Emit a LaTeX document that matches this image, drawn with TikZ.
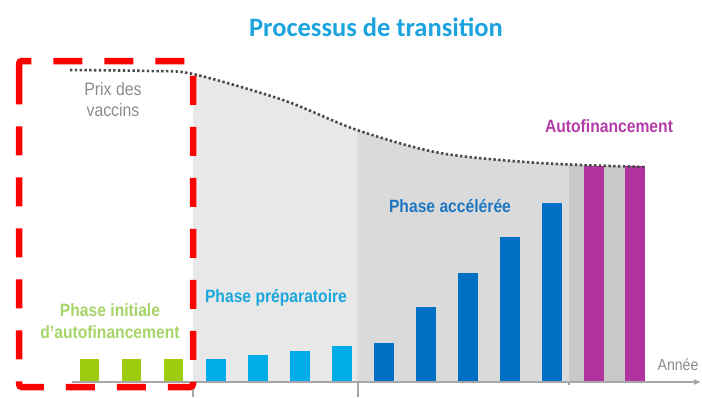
\documentclass[tikz,border=0pt]{standalone}
\usepackage{fontspec}
\setsansfont{Liberation Sans}[FakeStretch=0.88]
\newfontfamily\titrefont{Carlito}
\usepackage{tikz}
\usetikzlibrary{arrows}
\definecolor{titrebleu}{HTML}{1BA3E0}
\definecolor{grisnote}{HTML}{8C8C8C}
\definecolor{grisaxe}{HTML}{A6A6A6}
\definecolor{grisprix}{HTML}{4A4A4A}
\definecolor{zoneA}{HTML}{E8E8E8}
\definecolor{zoneB}{HTML}{DADADA}
\definecolor{zoneC}{HTML}{C8C8C8}
\definecolor{barvert}{HTML}{9ECD10}
\definecolor{barcyan}{HTML}{00ADE8}
\definecolor{barbleu}{HTML}{0070C4}
\definecolor{barmagenta}{HTML}{B2329E}
\definecolor{txtvert}{HTML}{A5D468}
\definecolor{txtcyan}{HTML}{1AA7DD}
\definecolor{txtbleu}{HTML}{1E76C2}
\definecolor{txtmagenta}{HTML}{B43CA8}
\newcommand\courbeprix{plot[smooth] coordinates {(70,70) (150,71) (193,74) (283,100) (357,130) (440,153) (540,163) (645,167)}}

\begin{document}
\begin{tikzpicture}[x=1pt,y=-1pt,font=\sffamily,
  every node/.style={inner sep=0pt,anchor=base,align=center},
  phase/.style={font=\sffamily\bfseries\fontsize{17.8}{22}\selectfont},
  note/.style={font=\sffamily\fontsize{18}{21}\selectfont,text=grisnote},
  axe/.style={draw=grisaxe,line width=1.2pt},
  prix/.style={draw=grisprix,line width=2.6pt,dash pattern=on 2.4pt off 2.4pt},
  cadre/.style={draw=red,line width=6.5pt,dash pattern=on 29pt off 22pt,rounded corners=3pt}]

    \useasboundingbox (0,0) rectangle (702,397);

    % zones grises sous la courbe
    \begin{scope}
        \clip \courbeprix -- (645,382) -- (70,382) -- cycle;
        \fill[zoneA] (193,0) rectangle (357,382);
        \fill[zoneB] (357,0) rectangle (569,382);
        \fill[zoneC] (569,0) rectangle (645,382);
    \end{scope}

    % barres
    \foreach \x in {80,122,164}
        \fill[barvert] (\x,359) rectangle (\x+19,382);
    \foreach \x/\h in {206/359,248/355,290/351,332/346}
        \fill[barcyan] (\x,\h) rectangle (\x+20,382);
    \foreach \x/\h in {374/343,416/307,458/273,500/237,542/203}
        \fill[barbleu] (\x,\h) rectangle (\x+20,382);
    \foreach \x in {584,625}
        \fill[barmagenta] (\x,166) rectangle (\x+20,382);

    \draw[prix] \courbeprix;

    % axe
    \coordinate (origine) at (72,382);
    \coordinate (fin) at (700,382);
    \draw[axe,->,>=stealth'] (origine) -- (fin);
    \foreach \x/\y in {193/397,358/397,569/385}
        \draw[axe] (\x,382) -- (\x,\y);

    \node[font=\titrefont\bfseries\fontsize{26.5}{30}\selectfont,text=titrebleu] (titre) at (376,36) {Processus de transition};
    \node[note] (prixlab) at (113,116) {Prix des\\vaccins};
    \node[phase,text=txtvert] (initiale) at (110,338) {Phase initiale\\d'autofinancement};
    \node[phase,text=txtcyan] (prep) at (276,302) {Phase préparatoire};
    \node[phase,text=txtbleu] (acc) at (450,212) {Phase accélérée};
    \node[phase,text=txtmagenta] (auto) at (609,132) {Autofinancement};
    \node[note,font=\sffamily\fontsize{16}{20}\selectfont] (annee) at (678,370) {Année};

    % cadre rouge
    \draw[cadre] (19,82) -- (19,61) -- (193,61) -- (193,387) -- (19,387) -- cycle;
\end{tikzpicture}
\end{document}
